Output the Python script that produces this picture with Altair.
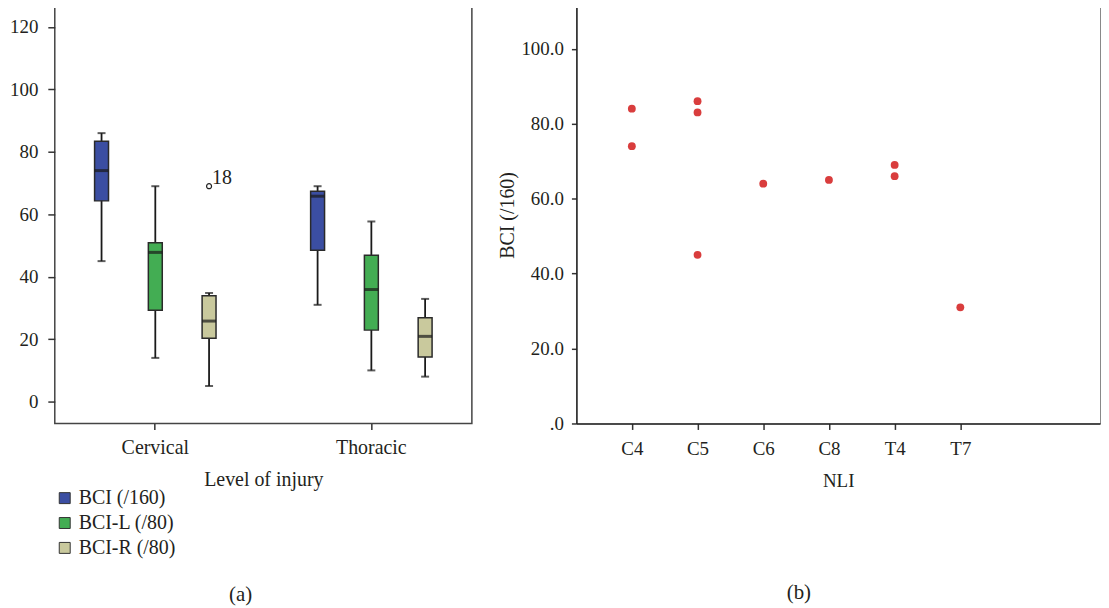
import altair as alt
import pandas as pd

FONT = "Liberation Serif"
TXT = "#231f20"

# ---------- panel (a): box plots ----------
levels = ["Cervical", "Thoracic"]
measures = ["BCI (/160)", "BCI-L (/80)", "BCI-R (/80)"]
colors = ["#3b4ea2", "#43ad53", "#c9c99d"]

box_level = ["Cervical", "Cervical", "Cervical", "Thoracic", "Thoracic", "Thoracic"]
box_measure = measures * 2
w_low = [45, 14, 5, 31, 10, 8]
q1 = [64.3, 29.3, 20.3, 48.5, 22.9, 14.3]
median = [74, 47.8, 25.8, 65.8, 35.9, 20.9]
q3 = [83.4, 50.9, 33.9, 67.4, 46.9, 26.9]
w_high = [86, 69, 34.8, 69, 57.7, 32.9]

outlier_level = ["Cervical"]
outlier_measure = ["BCI-R (/80)"]
outlier_value = [69]
outlier_label = ["18"]

# ---------- panel (b): scatter ----------
nli_categories = ["C4", "C5", "C6", "C8", "T4", "T7"]
pt_nli = ["C4", "C4", "C5", "C5", "C5", "C6", "C8", "T4", "T4", "T7"]
pt_bci = [84, 74, 86, 83, 45, 64, 65, 69, 66, 31]

box_df = pd.DataFrame({
    "level": box_level, "measure": box_measure,
    "w_low": w_low, "q1": q1, "median": median, "q3": q3, "w_high": w_high,
})
out_df = pd.DataFrame({
    "level": outlier_level, "measure": outlier_measure,
    "value": outlier_value, "label": outlier_label,
})
pt_df = pd.DataFrame({"nli": pt_nli, "bci": pt_bci})
pt_df["idx"] = [nli_categories.index(n) for n in pt_nli]

x_enc = alt.X(
    "level:N",
    scale=alt.Scale(domain=levels, paddingInner=0.2535, paddingOuter=0.092),
    axis=alt.Axis(
        title="Level of injury", labelAngle=0, domain=False, ticks=True,
        tickSize=6, tickColor="#333", tickWidth=1.5, labelPadding=8,
        labelFontSize=20, titleFontSize=20, titleFontWeight="normal",
        titlePadding=12,
    ),
)
xo_enc = alt.XOffset(
    "measure:N",
    scale=alt.Scale(domain=measures, paddingInner=0.741, paddingOuter=0.3705),
)
ysc = alt.Scale(domain=[-7, 126.6], nice=False, zero=False)
y_axis = alt.Axis(
    title=None, values=[0, 20, 40, 60, 80, 100, 120], domain=False, grid=False,
    tickSize=7, tickColor="#333", tickWidth=1.5, labelPadding=10, labelFontSize=19,
)

base = alt.Chart(box_df)
whisk = base.mark_rule(color="#1a1a1a", strokeWidth=1.8).encode(
    x=x_enc, xOffset=xo_enc,
    y=alt.Y("w_low:Q", scale=ysc, axis=y_axis), y2="w_high:Q",
)
cap_lo = base.mark_tick(color="#1a1a1a", thickness=2, size=8).encode(
    x=x_enc, xOffset=xo_enc, y=alt.Y("w_low:Q", scale=ysc)
)
cap_hi = base.mark_tick(color="#1a1a1a", thickness=2, size=8).encode(
    x=x_enc, xOffset=xo_enc, y=alt.Y("w_high:Q", scale=ysc)
)
boxes = base.mark_bar(stroke="#2a2a2a", strokeWidth=1.5, opacity=1).encode(
    x=x_enc, xOffset=xo_enc,
    y=alt.Y("q1:Q", scale=ysc), y2="q3:Q",
    color=alt.Color(
        "measure:N",
        scale=alt.Scale(domain=measures, range=colors),
        legend=alt.Legend(
            orient="none", legendX=0, legendY=484, title=None, padding=0,
            symbolType="square", symbolSize=121, symbolStrokeColor="#333",
            symbolStrokeWidth=1, symbolOpacity=1, labelFontSize=20,
            labelOffset=4, rowPadding=5, labelColor=TXT, labelFont=FONT,
        ),
    ),
)
med = base.mark_tick(color="#1a1a1a", thickness=3, size=14).encode(
    x=x_enc, xOffset=xo_enc, y=alt.Y("median:Q", scale=ysc)
)
ob = alt.Chart(out_df)
opt = ob.mark_point(shape="circle", filled=False, size=25, color="#222",
                    strokeWidth=1.2, opacity=1).encode(
    x=x_enc, xOffset=xo_enc, y=alt.Y("value:Q", scale=ysc)
)
otx = ob.mark_text(align="left", baseline="alphabetic", dx=3, dy=-2,
                   fontSize=20, font=FONT, color=TXT).encode(
    x=x_enc, xOffset=xo_enc, y=alt.Y("value:Q", scale=ysc), text="label:N"
)

left = alt.layer(whisk, cap_lo, cap_hi, boxes, med, opt, otx).properties(
    width=419, height=419,
    view=alt.ViewBackground(stroke="#444", strokeWidth=1.5),
    title=alt.TitleParams("(a)", orient="bottom", fontSize=21, font=FONT,
                          fontWeight="normal", color=TXT, offset=26,
                          anchor="middle", frame="bounds"),
)

label_expr = "[" + ",".join("'%s'" % c for c in nli_categories) + "][datum.value]"
right = alt.Chart(pt_df).mark_circle(size=62, color="#d93d3d", opacity=1).encode(
    x=alt.X(
        "idx:Q",
        scale=alt.Scale(domain=[-0.844, 7.126], nice=False, zero=False),
        axis=alt.Axis(
            title="NLI", values=list(range(len(nli_categories))), labelExpr=label_expr,
            grid=False, domainColor="#222", domainWidth=1.5, tickSize=6,
            tickColor="#333", tickWidth=1.5, labelPadding=10, labelFontSize=19,
            titleFontSize=19, titleFontWeight="normal", titlePadding=13,
        ),
    ),
    y=alt.Y(
        "bci:Q",
        scale=alt.Scale(domain=[0, 111.3], nice=False, zero=False),
        axis=alt.Axis(
            title="BCI (/160)", values=[0, 20, 40, 60, 80, 100],
            labelExpr="datum.value == 0 ? '.0' : format(datum.value, '.1f')",
            grid=False, domainColor="#222", domainWidth=1.5, tickSize=5,
            tickColor="#333", tickWidth=1.5, labelPadding=8, labelFontSize=19,
            titleFontSize=20, titleFontWeight="normal", titlePadding=8,
            minExtent=51, maxExtent=51,
        ),
    ),
).properties(
    width=526, height=419,
    view=alt.ViewBackground(stroke="#888", strokeWidth=1),
    title=alt.TitleParams("(b)", orient="bottom", fontSize=21, font=FONT,
                          fontWeight="normal", color=TXT, offset=92,
                          anchor="middle", frame="bounds"),
)

chart = alt.hconcat(left, right, spacing=24).resolve_scale(
    color="independent"
).resolve_legend(color="independent").properties(
    padding={"left": 0, "top": -4, "right": 0, "bottom": 0},
).configure(
    font=FONT,
).configure_axis(
    labelFont=FONT, titleFont=FONT, labelColor=TXT, titleColor=TXT,
).configure_legend(
    labelFont=FONT,
)

chart.save("out.html", embed_options={"renderer": "svg", "actions": False})
